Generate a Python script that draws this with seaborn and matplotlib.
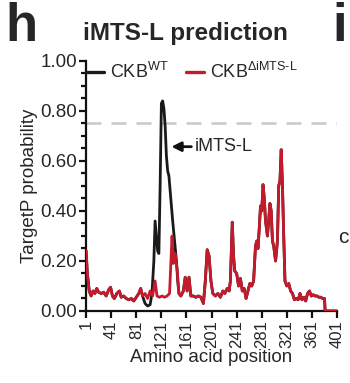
import numpy as np
import pandas as pd
import matplotlib
matplotlib.use('Agg')
import matplotlib.pyplot as plt
import seaborn as sns
from matplotlib.lines import Line2D
from matplotlib.ticker import MultipleLocator, FormatStrFormatter

# TargetP probability along CKB
red_pos = [1, 3, 6, 9, 12, 15, 18, 21, 25, 29, 33, 37, 40, 43, 46, 50, 54, 57, 61, 65,
           69, 73, 77, 81, 85, 88, 91, 95, 99, 103, 107, 111, 114, 118, 122, 126, 130, 134,
           138, 140, 143, 146, 149, 152, 156, 159, 162, 165, 168, 172, 176, 180, 184, 188,
           191, 194, 197, 200, 203, 207, 211, 215, 219, 222, 226, 229, 231, 234, 236, 238,
           241, 244, 247, 250, 253, 256, 259, 262, 265, 268, 271, 273, 275, 277, 279, 281,
           283, 285, 287, 290, 292, 294, 296, 298, 300, 303, 306, 308, 310, 312, 314, 316,
           318, 321, 324, 327, 330, 333, 336, 339, 342, 345, 348, 351, 354, 357, 360, 363,
           366, 369, 372, 375, 378, 381, 382, 401]
red_val = [0.24, 0.15, 0.08, 0.06, 0.08, 0.07, 0.09, 0.075, 0.07, 0.075, 0.06, 0.085, 0.095,
           0.06, 0.05, 0.07, 0.08, 0.055, 0.06, 0.05, 0.045, 0.05, 0.04, 0.055, 0.07, 0.09,
           0.06, 0.07, 0.05, 0.08, 0.06, 0.12, 0.06, 0.055, 0.06, 0.055, 0.06, 0.07, 0.30,
           0.19, 0.23, 0.17, 0.07, 0.06, 0.08, 0.135, 0.08, 0.135, 0.06, 0.06, 0.055, 0.06,
           0.055, 0.03, 0.12, 0.245, 0.22, 0.12, 0.07, 0.06, 0.07, 0.055, 0.08, 0.07, 0.09,
           0.08, 0.12, 0.355, 0.22, 0.16, 0.15, 0.10, 0.13, 0.08, 0.09, 0.05, 0.08, 0.11,
           0.10, 0.12, 0.26, 0.28, 0.25, 0.33, 0.42, 0.40, 0.505, 0.45, 0.36, 0.30, 0.36,
           0.43, 0.40, 0.28, 0.26, 0.20, 0.28, 0.50, 0.52, 0.645, 0.50, 0.30, 0.12, 0.10,
           0.11, 0.08, 0.07, 0.045, 0.05, 0.045, 0.07, 0.045, 0.055, 0.04, 0.07, 0.08, 0.06,
           0.065, 0.06, 0.06, 0.055, 0.055, 0.05, 0.05, 0.0, 0.0]

# WT differs from the deletion mutant only around the iMTS-L region
wt_pos = [91, 95, 99, 103, 106, 109, 111, 113, 115, 117, 119, 121, 123, 125, 127, 129, 131,
          133, 136, 139, 142, 145, 147, 149]
wt_val = [0.06, 0.03, 0.02, 0.025, 0.07, 0.20, 0.36, 0.30, 0.24, 0.23, 0.50, 0.83, 0.84,
          0.81, 0.74, 0.62, 0.56, 0.54, 0.45, 0.36, 0.28, 0.20, 0.12, 0.07]

xticks = [1, 41, 81, 121, 161, 201, 241, 281, 321, 361, 401]
cutoff = 0.75

red_df = pd.DataFrame({'pos': red_pos, 'p': red_val})
wt_df = pd.concat([red_df[(red_df.pos < 91) | (red_df.pos > 149)],
                   pd.DataFrame({'pos': wt_pos, 'p': wt_val})]).sort_values('pos')

sns.set_style('ticks')
plt.rcParams['font.family'] = ['Liberation Sans', 'DejaVu Sans']
plt.rcParams['mathtext.fontset'] = 'custom'
plt.rcParams['mathtext.rm'] = 'Liberation Sans'

fig = plt.figure(figsize=(3.5, 3.83), dpi=100)
ax = fig.add_axes([0.246, 0.188, 0.717, 0.653])

red = '#c41a2c'
ax.axhline(cutoff, color='#c8c8c8', lw=1.8, dashes=(6, 4), zorder=1)
sns.lineplot(data=wt_df, x='pos', y='p', color='#1a1a1a', lw=2.0, ax=ax, zorder=2)
sns.lineplot(data=red_df, x='pos', y='p', color=red, lw=2.0, ax=ax, zorder=3)

ax.set_xlim(1, 401)
ax.set_ylim(0, 1.0)
ax.set_xticks(xticks)
ax.set_xticklabels([str(t) for t in xticks], rotation=90, fontsize=12)
ax.yaxis.set_major_locator(MultipleLocator(0.2))
ax.yaxis.set_minor_locator(MultipleLocator(0.05))
ax.yaxis.set_major_formatter(FormatStrFormatter('%.2f'))
ax.tick_params(axis='y', which='major', labelsize=13.5)
ax.tick_params(axis='both', which='major', length=5, width=1.6, pad=1.5, color='#111111')
ax.tick_params(axis='y', which='minor', length=3.5, width=1.6, color='#111111')
for s in ['left', 'bottom']:
    ax.spines[s].set_linewidth(1.6)
    ax.spines[s].set_color('#111111')
sns.despine(ax=ax)

ax.set_xlabel('Amino acid position', fontsize=13.5, labelpad=1)
ax.set_ylabel('TargetP probability', fontsize=13.5, labelpad=2)

ax.annotate('iMTS-L', xy=(137, 0.657), xytext=(174, 0.657), fontsize=13,
            va='center', ha='left',
            arrowprops=dict(arrowstyle='-|>', color='#111111', lw=2.0,
                            mutation_scale=14, shrinkA=0, shrinkB=0))

handles = [Line2D([], [], color='#1a1a1a', lw=2.4),
           Line2D([], [], color=red, lw=2.4)]
ax.legend(handles, [r'CKB$^{\text{WT}}$', r'CKB$^{\text{ΔiMTS-L}}$'], ncol=2,
          frameon=False, fontsize=13, loc='center left', bbox_to_anchor=(0.0, 0.955),
          handlelength=1.0, handletextpad=0.3, columnspacing=1.0, borderpad=0,
          borderaxespad=0)

fig.text(0.53, 0.913, 'iMTS-L prediction', fontsize=17.5, fontweight='bold',
         ha='center', va='center')
fig.text(0.015, 0.93, 'h', fontsize=38, fontweight='bold', ha='left', va='center')
fig.text(0.95, 0.93, 'i', fontsize=38, fontweight='bold', ha='left', va='center')
fig.text(0.965, 0.38, 'c', fontsize=15, ha='left', va='center')

fig.savefig('out.png', dpi=100)
